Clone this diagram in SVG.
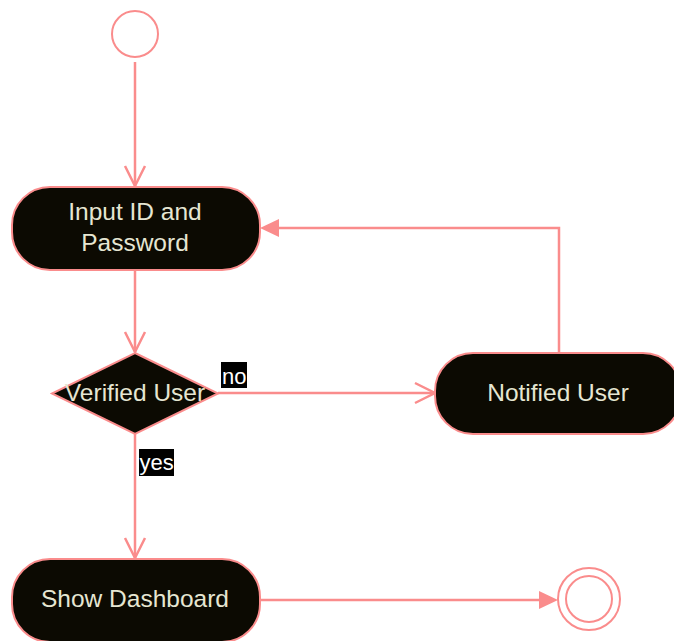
<svg xmlns="http://www.w3.org/2000/svg" width="674" height="641" viewBox="0 0 674 641">
  <style>
    .state { fill: #0c0a02; stroke: #fa8c8c; stroke-width: 2; }
    .label { fill: #e6e6d2; font-family: "Liberation Sans", Arial, sans-serif; font-size: 24.5px; text-anchor: middle; }
    .edge { fill: none; stroke: #fa8c8c; stroke-width: 2.5; }
    .open { fill: none; stroke: #fa8c8c; stroke-width: 2.5; stroke-linejoin: miter; }
    .tagbg { fill: #000000; }
    .tag { fill: #ffffff; font-family: "Liberation Sans", Arial, sans-serif; font-size: 22px; }
    .ring { fill: #ffffff; stroke: #fa8c8c; stroke-width: 2; }
  </style>
  <rect width="674" height="641" fill="#ffffff"/>

  <g id="connectors">
    <!-- start to input -->
    <path class="edge" d="M135,62 V186"/>
    <path class="open" d="M125,166 L135,186 L145,166"/>
    <!-- input to decision -->
    <path class="edge" d="M135,270 V352"/>
    <path class="open" d="M125,332 L135,352 L145,332"/>
    <!-- decision no -> notified -->
    <path class="edge" d="M218,393 H435"/>
    <path class="open" d="M415,383 L435,393 L415,403"/>
    <!-- notified back to input -->
    <path class="edge" d="M559,352 V228 H270"/>
    <polygon points="260,228 279,219 279,237" fill="#fa8c8c"/>
    <!-- decision yes -> dashboard -->
    <path class="edge" d="M135,434 V558"/>
    <path class="open" d="M125,538 L135,558 L145,538"/>
    <!-- dashboard to end -->
    <path class="edge" d="M260,600 H545"/>
    <polygon points="558,600 539,591 539,609" fill="#fa8c8c"/>
    <!-- edge labels -->
    <rect class="tagbg" x="221" y="362" width="26" height="26"/>
    <text class="tag" x="222" y="384">no</text>
    <rect class="tagbg" x="139" y="449" width="35" height="27"/>
    <text class="tag" x="139.5" y="470">yes</text>
  </g>

  <g id="start">
    <circle class="ring" cx="135" cy="34" r="23"/>
  </g>

  <g id="input">
    <rect class="state" x="12" y="187" width="248" height="83" rx="38" ry="38"/>
    <text class="label" x="135" y="220">Input ID and</text>
    <text class="label" x="135" y="251">Password</text>
  </g>

  <g id="verify">
    <polygon class="state" points="135,353 218,393.5 135,434 52,393.5"/>
    <text class="label" x="135" y="401">Verified User</text>
  </g>

  <g id="notified">
    <rect class="state" x="435" y="353" width="246" height="81" rx="38" ry="38"/>
    <text class="label" x="558" y="401">Notified User</text>
  </g>

  <g id="dashboard">
    <rect class="state" x="12" y="559" width="248" height="83" rx="38" ry="38"/>
    <text class="label" x="135" y="607">Show Dashboard</text>
  </g>

  <g id="end">
    <circle class="ring" cx="589" cy="599" r="31"/>
    <circle class="ring" cx="589" cy="599" r="23"/>
  </g>
</svg>
